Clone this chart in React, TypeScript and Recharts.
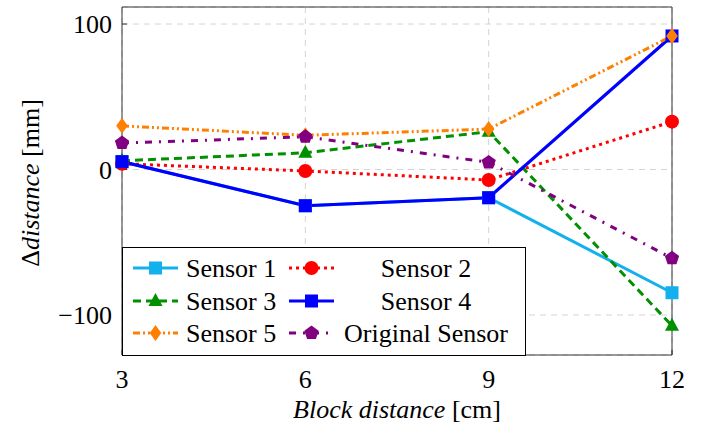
import { LineChart, Line, XAxis, YAxis, CartesianGrid } from "recharts"

// block distance [cm]
const distances = [3, 6, 9, 12]

// change in measured distance [mm] per sensor
const sensor1 = [5.4, -24.9, -19.4, -84.7]
const sensor2 = [4, -1, -7.2, 32.9]
const sensor3 = [6, 11.5, 26, -107.4]
const sensor4 = [5.4, -24.9, -19.4, 91.8]
const sensor5 = [30, 23.5, 27.8, 91.8]
const originalSensor = [18.2, 22.5, 4.9, -61]

const yTicks = [-100, 0, 100]
const Y_DOMAIN: [number, number] = [-127.5, 111.7]

const FONT = "Liberation Serif, DejaVu Serif, serif"
const FRAME = "#333"

const data = distances.map((d, i) => ({
    d,
    s1: sensor1[i],
    s2: sensor2[i],
    s3: sensor3[i],
    s4: sensor4[i],
    s5: sensor5[i],
    orig: originalSensor[i],
}))

type Shape = "square" | "circle" | "triangle" | "diamond" | "pentagon"

const SERIES: {
    key: string
    name: string
    color: string
    dash?: string
    shape: Shape
    width: number
}[] = [
    { key: "s1", name: "Sensor 1", color: "#12B0EC", shape: "square", width: 3 },
    { key: "s2", name: "Sensor 2", color: "#FF0000", dash: "3 4", shape: "circle", width: 3 },
    { key: "s3", name: "Sensor 3", color: "#009000", dash: "8 5", shape: "triangle", width: 3 },
    { key: "s4", name: "Sensor 4", color: "#0000FF", shape: "square", width: 3.2 },
    { key: "s5", name: "Sensor 5", color: "#FF8000", dash: "7 3 2 3 2 3", shape: "diamond", width: 3 },
    { key: "orig", name: "Original Sensor", color: "#800080", dash: "7 7 2 7", shape: "pentagon", width: 3 },
]

const textStyle = { fontFamily: FONT, fontSize: 26 }

function Mark({ shape, cx, cy, color }: { shape: Shape; cx: number; cy: number; color: string }) {
    switch (shape) {
        case "square":
            return <rect x={cx - 6.5} y={cy - 6.5} width={13} height={13} fill={color} />
        case "circle":
            return <circle cx={cx} cy={cy} r={7} fill={color} />
        case "triangle":
            return (
                <polygon
                    points={`${cx},${cy - 8} ${cx + 7},${cy + 5} ${cx - 7},${cy + 5}`}
                    fill={color}
                />
            )
        case "diamond":
            return (
                <polygon
                    points={`${cx},${cy - 8} ${cx + 5.8},${cy} ${cx},${cy + 8} ${cx - 5.8},${cy}`}
                    fill={color}
                />
            )
        case "pentagon": {
            const pts = [0, 1, 2, 3, 4]
                .map((k) => {
                    const a = ((-90 + 72 * k) * Math.PI) / 180
                    return `${cx + 7.5 * Math.cos(a)},${cy + 7.5 * Math.sin(a)}`
                })
                .join(" ")
            return <polygon points={pts} fill={color} />
        }
    }
}

const XTitle = ({ viewBox }: any) => (
    <text
        x={viewBox.x + viewBox.width / 2}
        y={viewBox.y + 63}
        textAnchor="middle"
        style={textStyle}
        fill="#000"
    >
        <tspan fontStyle="italic">Block distance</tspan>
        <tspan> [cm]</tspan>
    </text>
)

const YTitle = ({ viewBox }: any) => {
    const cx = 30
    const cy = viewBox.y + viewBox.height / 2 + 2
    return (
        <text
            x={cx}
            y={cy}
            transform={`rotate(-90, ${cx}, ${cy})`}
            textAnchor="middle"
            dominantBaseline="central"
            style={textStyle}
            fill="#000"
        >
            <tspan>Δ</tspan>
            <tspan fontStyle="italic">distance</tspan>
            <tspan> [mm]</tspan>
        </text>
    )
}

const minus = (v: number) => (v < 0 ? `\u2212${-v}` : `${v}`)

// two-column legend box in the lower left corner of the plot
function LegendBox() {
    const rows = [21, 54, 86]
    return (
        <svg
            width={405}
            height={110}
            style={{ position: "absolute", left: 121.5, top: 246.5, overflow: "visible" }}
        >
            <rect x={0.5} y={0.5} width={403} height={108} fill="#fff" stroke="#000" strokeWidth={1} />
            {SERIES.map((s, i) => {
                const col = i % 2
                const y = rows[Math.floor(i / 2)]
                const x0 = col === 0 ? 11 : 167
                const x1 = x0 + 45
                const mx = (x0 + x1) / 2
                return (
                    <g key={s.key}>
                        <line
                            x1={x0}
                            x2={x1}
                            y1={y}
                            y2={y}
                            stroke={s.color}
                            strokeWidth={s.width}
                            strokeDasharray={s.dash}
                        />
                        <Mark shape={s.shape} cx={mx} cy={y} color={s.color} />
                        <text
                            x={col === 0 ? 64 : 304}
                            y={y}
                            textAnchor={col === 0 ? "start" : "middle"}
                            dominantBaseline="central"
                            style={textStyle}
                            fill="#000"
                        >
                            {s.name}
                        </text>
                    </g>
                )
            })}
        </svg>
    )
}

export default function App() {
    return (
        <div
            style={{
                position: "absolute",
                left: 0,
                top: 0,
                width: 710,
                height: 430,
                background: "#fff",
                fontFamily: FONT,
            }}
        >
            <LineChart
                width={710}
                height={430}
                data={data}
                margin={{ top: 6, right: 37, bottom: 0, left: 0 }}
                style={{ fontFamily: FONT }}
            >
                <CartesianGrid stroke="#d4d4d4" strokeDasharray="6 5" />
                <XAxis
                    dataKey="d"
                    type="number"
                    domain={[3, 12]}
                    ticks={distances}
                    height={75}
                    stroke={FRAME}
                    tickSize={-5}
                    tickMargin={20}
                    tick={{ fill: "#000", ...textStyle }}
                    label={{ content: XTitle }}
                />
                <XAxis
                    xAxisId="top"
                    orientation="top"
                    dataKey="d"
                    type="number"
                    domain={[3, 12]}
                    ticks={distances}
                    height={1}
                    stroke={FRAME}
                    tickSize={-5}
                    tick={false}
                />
                <YAxis
                    type="number"
                    domain={Y_DOMAIN}
                    ticks={yTicks}
                    width={122}
                    stroke={FRAME}
                    tickSize={-5}
                    tickMargin={15}
                    tickFormatter={minus}
                    tick={{ fill: "#000", ...textStyle }}
                    label={{ content: YTitle }}
                />
                <YAxis
                    yAxisId="right"
                    orientation="right"
                    type="number"
                    domain={Y_DOMAIN}
                    ticks={yTicks}
                    width={1}
                    stroke={FRAME}
                    tickSize={-5}
                    tick={false}
                />
                {SERIES.map((s) => (
                    <Line
                        key={s.key}
                        dataKey={s.key}
                        name={s.name}
                        type="linear"
                        stroke={s.color}
                        strokeWidth={s.width}
                        strokeDasharray={s.dash}
                        dot={(p: any) => (
                            <Mark
                                key={`${s.key}-${p.index}`}
                                shape={s.shape}
                                cx={p.cx}
                                cy={p.cy}
                                color={s.color}
                            />
                        )}
                        activeDot={false}
                        isAnimationActive={false}
                    />
                ))}
            </LineChart>
            <LegendBox />
        </div>
    )
}
